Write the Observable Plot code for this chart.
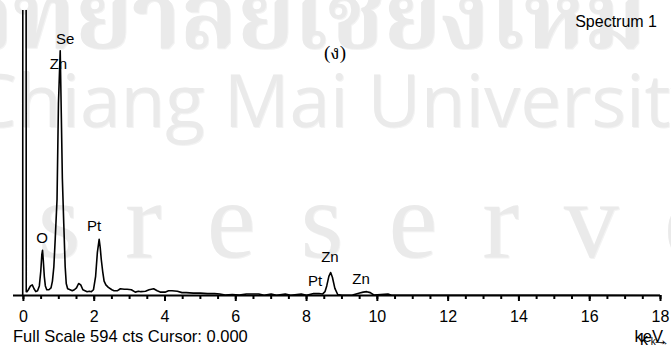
<!DOCTYPE html>
<html>
<head>
<meta charset="utf-8">
<script src="https://cdn.jsdelivr.net/npm/d3@7"></script>
<script src="https://cdn.jsdelivr.net/npm/@observablehq/plot@0.6"></script>
<style>
  html, body { margin: 0; padding: 0; background: #fff; }
  #wrap { position: relative; width: 671px; height: 347px; overflow: hidden; font-family: "Liberation Sans", Arial, sans-serif; }
  .wm { position: absolute; white-space: nowrap; color: #eaeaea; text-shadow: 1px 1px 0 #f3f3f3; }
  .lbl { position: absolute; white-space: nowrap; color: #000; }
  #chart { position: absolute; left: 0; top: 0; }
</style>
</head>
<body>
<div id="wrap">
  <div class="wm" id="wm1" style="left:-492px; top:-50px; font-size:92px; font-weight:bold; font-family:'Noto Serif Thai','Noto Sans Thai','Loma','Garuda',sans-serif;">ลิขสิทธิ์มหาวิทยาลัยเชียงใหม่</div>
  <div class="wm" id="wm2" style="right:-36px; top:49px; font-size:73px; font-family:'Open Sans',sans-serif;">Copyright© by Chiang Mai University</div>
  <div class="wm" id="wm3" style="left:-670px; top:157px; font-size:110px; font-family:'Liberation Serif',serif; letter-spacing:45px; word-spacing:-73px;">All rights reserved</div>
  <div id="chart"></div>
  <div class="lbl" style="right:14px; top:13px; font-size:16px;">Spectrum 1</div>
  <div class="lbl" style="left:324px; top:39px; font-size:19px; font-family:'Liberation Serif','Noto Serif Thai','Noto Sans Thai',serif;">(ง)</div>
  <div class="lbl" style="left:13px; top:327px; font-size:16.5px;">Full Scale 594 cts Cursor: 0.000</div>
  <div class="lbl" style="right:8px; top:327px; font-size:16.5px;">keV</div>
</div>
<script>
// Spectrum (keV, counts)
const keV = [-0.02, -0.01, 0.07, 0.08, 0.10, 0.14, 0.20, 0.25, 0.30, 0.35, 0.40, 0.45, 0.49, 0.52, 0.54, 0.56, 0.59, 0.62, 0.66, 0.72, 0.78, 0.82, 0.86, 0.90, 0.95, 0.99, 1.04, 1.07, 1.10, 1.14, 1.18, 1.21, 1.25, 1.32, 1.38, 1.44, 1.50, 1.56, 1.62, 1.68, 1.74, 1.80, 1.86, 1.92, 1.98, 2.04, 2.09, 2.14, 2.17, 2.20, 2.24, 2.28, 2.33, 2.40, 2.50, 2.56, 2.66, 2.74, 2.85, 2.93, 3.05, 3.16, 3.25, 3.32, 3.45, 3.55, 3.68, 3.78, 3.88, 4.00, 4.10, 4.20, 4.35, 4.48, 4.60, 4.80, 5.00, 5.20, 5.40, 5.55, 5.70, 5.90, 6.10, 6.30, 6.50, 6.65, 6.80, 7.00, 7.15, 7.40, 7.55, 7.85, 8.00, 8.20, 8.35, 8.45, 8.52, 8.57, 8.63, 8.68, 8.73, 8.80, 8.88, 9.00, 9.30, 9.50, 9.60, 9.70, 9.80, 9.90, 10.30, 10.40, 12.00, 14.00, 16.00, 18.00];
const counts = [0, 2000, 2000, 8, 8, 12, 20, 22, 14, 8, 10, 20, 50, 85, 94, 75, 40, 20, 12, 12, 16, 30, 60, 120, 200, 400, 510, 380, 245, 150, 60, 25, 14, 12, 10, 12, 16, 25, 22, 12, 10, 8, 9, 8, 12, 40, 90, 117, 100, 75, 50, 30, 22, 17, 12, 10, 10, 14, 13, 13, 12, 7, 9, 8, 9, 12, 14, 10, 7, 7, 10, 10, 9, 6, 6, 5, 5, 4, 4, 3, 1, 2, 1, 3, 3, 3, 0.5, 3, 0.5, 3, 0.5, 3, 0.5, 4, 4, 3, 8, 20, 40, 48, 38, 15, 2, 0.5, 1, 5, 7, 8, 6, 1, 3, 0.5, 0.5, 0.5, 0.5, 0];
const spectrum = keV.map((k, i) => ({k, c: counts[i]}));

// Peak annotations
const peakNames = ["Se", "Zn", "O", "Pt", "Pt", "Zn", "Zn"];
const peakKeV   = [1.18, 0.99, 0.53, 2.0, 8.24, 8.66, 9.54];
const peakCts   = [535, 482, 120, 144, 29, 79, 35];
const peaks = peakNames.map((t, i) => ({t, k: peakKeV[i], c: peakCts[i]}));

// Axis
const xDomain = [-0.28, 18];
const fullScale = 594;
const majorTicks = d3.range(0, 18.01, 2);
const minorTicks = d3.range(0, 18.01, 0.5);

const chart = Plot.plot({
  width: 671,
  height: 347,
  marginLeft: 13,
  marginRight: 11,
  marginTop: 10,
  marginBottom: 52,
  style: {background: "transparent", fontFamily: "'Liberation Sans', Arial, sans-serif", color: "#000"},
  x: {domain: xDomain},
  y: {domain: [0, fullScale], axis: null},
  marks: [
    Plot.line(spectrum, {x: "k", y: "c", stroke: "#000", strokeWidth: 1.6, clip: true}),
    Plot.ruleY([0], {stroke: "#000", strokeWidth: 2}),
    Plot.axisX({ticks: minorTicks, tickSize: 4, strokeWidth: 2, text: null}),
    Plot.axisX({ticks: majorTicks, tickSize: 6, strokeWidth: 2, tickPadding: 9, fontSize: 16, tickFormat: d => String(d)}),
    Plot.text(peaks, {x: "k", y: "c", text: "t", fontSize: 15, fill: "#000"})
  ]
});
document.getElementById("chart").appendChild(chart);
</script>
</body>
</html>
